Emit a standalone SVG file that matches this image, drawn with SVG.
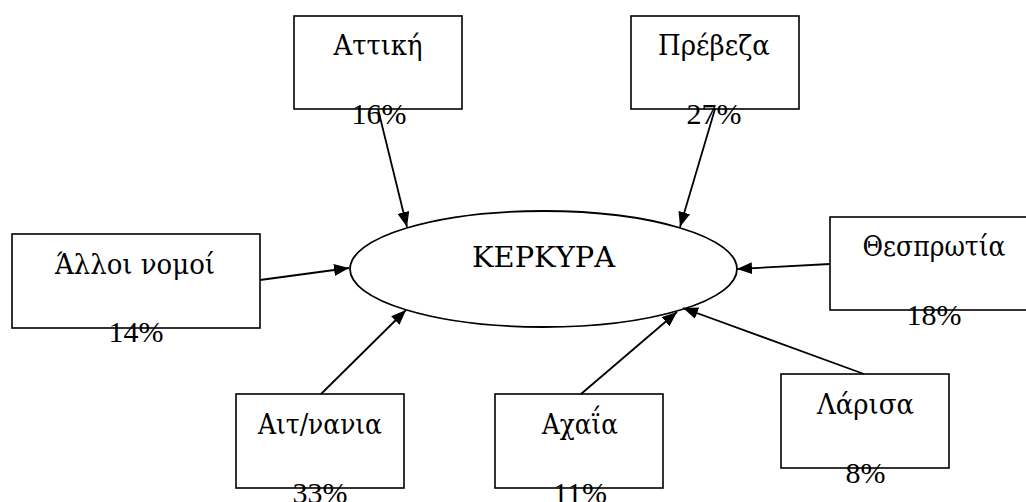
<svg xmlns="http://www.w3.org/2000/svg" width="1026" height="502" viewBox="0 0 1026 502">
<style>
.box{fill:none;stroke:#000;stroke-width:1.6}
.t{font-family:"Liberation Serif","Times New Roman",serif;font-size:30px;fill:#000;text-anchor:middle}
.g{font-family:"DejaVu Serif","Liberation Serif",serif;font-size:28px;fill:#000;text-anchor:middle}
.c{stroke:#000;stroke-width:1.8;fill:none;marker-end:url(#ah)}
</style>
<defs>
<marker id="ah" markerUnits="userSpaceOnUse" markerWidth="16" markerHeight="12" refX="15" refY="6" orient="auto">
<path d="M0,0 L15,6 L0,12 z" fill="#000"/>
</marker>
</defs>
<rect width="1026" height="502" fill="#fff"/>
<g id="connectors">
<line class="c" x1="378" y1="109" x2="407" y2="227"/>
<line class="c" x1="715" y1="109" x2="680" y2="227"/>
<line class="c" x1="260" y1="280" x2="349" y2="268"/>
<line class="c" x1="830" y1="264" x2="737" y2="269"/>
<line class="c" x1="321" y1="394" x2="406" y2="310"/>
<line class="c" x1="581" y1="394" x2="677" y2="312"/>
<line class="c" x1="864" y1="374" x2="683" y2="308"/>
</g>
<g id="kerkyra">
<ellipse cx="543.5" cy="269" rx="193.5" ry="58" fill="none" stroke="#000" stroke-width="1.8"/>
<text class="g" x="543.5" y="267" textLength="143" lengthAdjust="spacingAndGlyphs">ΚΕΡΚΥΡΑ</text>
</g>
<g id="attiki">
<rect class="box" x="294" y="16" width="168" height="93"/>
<text class="g" x="378" y="55" textLength="89" lengthAdjust="spacingAndGlyphs">Αττική</text>
<text class="t" x="379" y="124">16%</text>
</g>
<g id="preveza">
<rect class="box" x="631" y="16" width="168" height="93"/>
<text class="g" x="714" y="55" textLength="112" lengthAdjust="spacingAndGlyphs">Πρέβεζα</text>
<text class="t" x="714" y="124">27%</text>
</g>
<g id="alloi">
<rect class="box" x="12" y="234" width="248" height="94"/>
<text class="g" x="135" y="274" textLength="160" lengthAdjust="spacingAndGlyphs">Άλλοι νομοί</text>
<text class="t" x="136" y="342">14%</text>
</g>
<g id="thesprotia">
<rect class="box" x="830" y="217" width="208" height="93"/>
<text class="g" x="934" y="256" textLength="143" lengthAdjust="spacingAndGlyphs">Θεσπρωτία</text>
<text class="t" x="934" y="325">18%</text>
</g>
<g id="aitnania">
<rect class="box" x="236" y="394" width="168" height="94"/>
<text class="g" x="320" y="434" textLength="124" lengthAdjust="spacingAndGlyphs">Αιτ/νανια</text>
<text class="t" x="320" y="503">33%</text>
</g>
<g id="achaia">
<rect class="box" x="495" y="394" width="168" height="94"/>
<text class="g" x="580" y="434" textLength="76" lengthAdjust="spacingAndGlyphs">Αχαΐα</text>
<text class="t" x="580" y="503">11%</text>
</g>
<g id="larisa">
<rect class="box" x="781" y="374" width="168" height="94"/>
<text class="g" x="865.5" y="414" textLength="97" lengthAdjust="spacingAndGlyphs">Λάρισα</text>
<text class="t" x="865.5" y="483">8%</text>
</g>
</svg>
